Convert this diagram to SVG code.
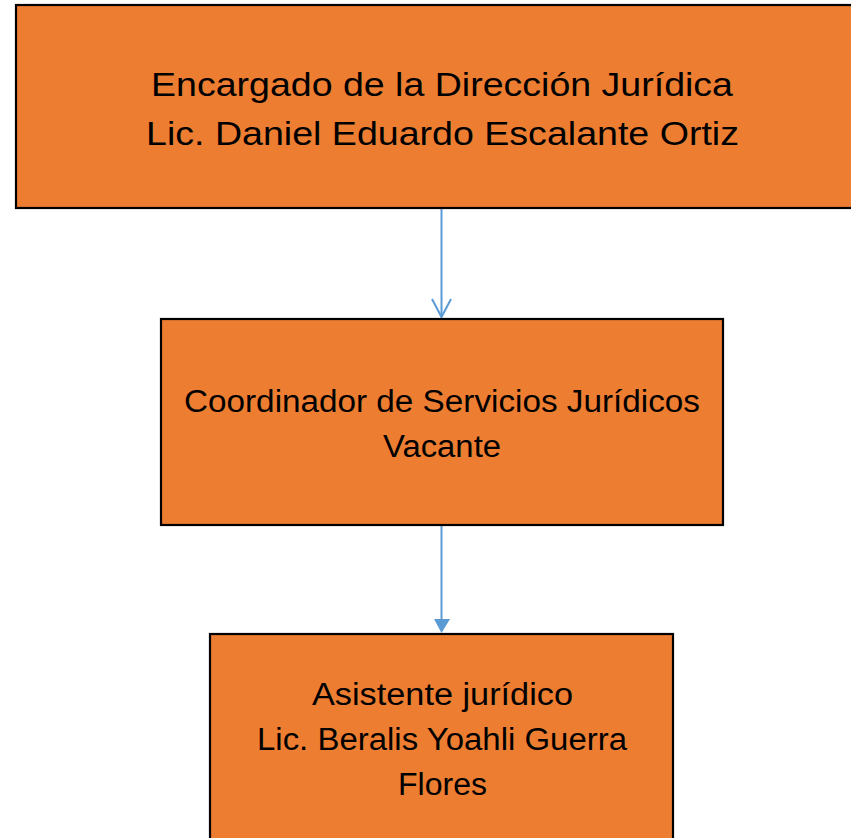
<svg xmlns="http://www.w3.org/2000/svg" width="851" height="838" viewBox="0 0 851 838">
<style>
.box{fill:#ED7D31;stroke:#000;stroke-width:2.2}
.t{font-family:"Liberation Sans",Arial,sans-serif;fill:#000;text-anchor:middle}
.big{font-size:33px}
.med{font-size:31px}
.conn{stroke:#5B9BD5;stroke-width:2;fill:none}
</style>
<rect width="851" height="838" fill="#fff"/>
<g id="connectors">
<line class="conn" x1="441.5" y1="209" x2="441.5" y2="316"/>
<polyline class="conn" points="432,299 441.5,317 451,299"/>
<line class="conn" x1="441.5" y1="525" x2="441.5" y2="621"/>
<polygon points="434,619 450,619 441.5,633" fill="#5B9BD5"/>
</g>
<g id="node-director">
<rect class="box" x="16" y="5" width="850" height="203"/>
<text class="t big" x="442" y="96" textLength="582" lengthAdjust="spacingAndGlyphs">Encargado de la Dirección Jurídica</text>
<text class="t big" x="442.5" y="145" textLength="593" lengthAdjust="spacingAndGlyphs">Lic. Daniel Eduardo Escalante Ortiz</text>
</g>
<g id="node-coordinador">
<rect class="box" x="161" y="319" width="562" height="206"/>
<text class="t med" x="442" y="412" textLength="516" lengthAdjust="spacingAndGlyphs">Coordinador de Servicios Jurídicos</text>
<text class="t med" x="442" y="457" textLength="118" lengthAdjust="spacingAndGlyphs">Vacante</text>
</g>
<g id="node-asistente">
<rect class="box" x="210" y="634" width="463" height="220"/>
<text class="t med" x="442.5" y="705" textLength="261" lengthAdjust="spacingAndGlyphs">Asistente jurídico</text>
<text class="t med" x="442" y="750" textLength="370" lengthAdjust="spacingAndGlyphs">Lic. Beralis Yoahli Guerra</text>
<text class="t med" x="442.5" y="795" textLength="89" lengthAdjust="spacingAndGlyphs">Flores</text>
</g>
</svg>
